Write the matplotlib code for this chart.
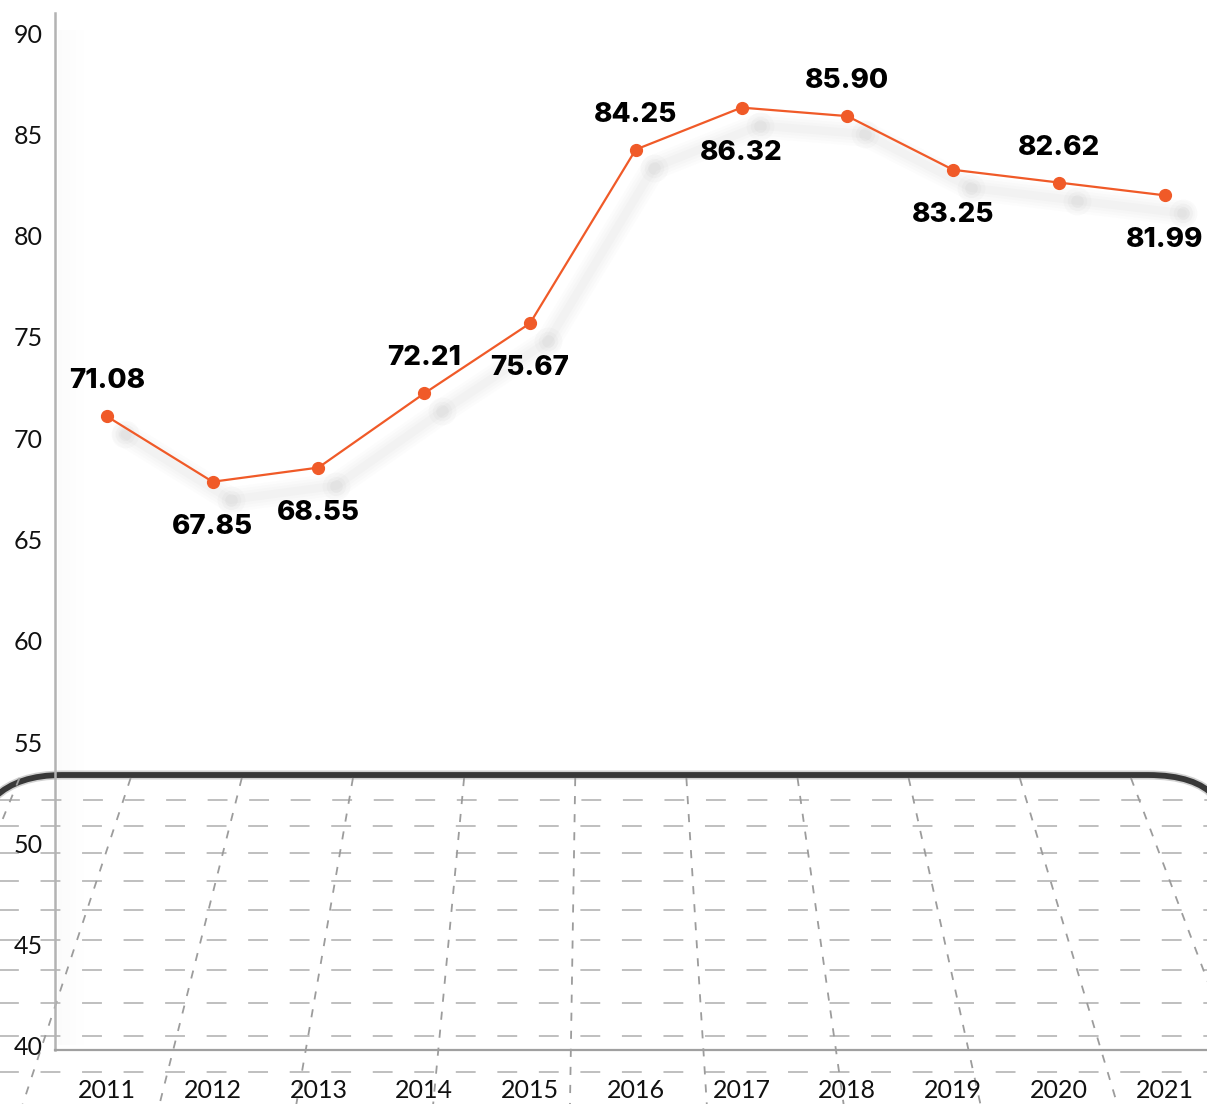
import numpy as np
import matplotlib
matplotlib.use("Agg")
import matplotlib.pyplot as plt
from matplotlib.path import Path
from matplotlib.patches import PathPatch
from matplotlib.transforms import ScaledTranslation

# --- data -------------------------------------------------------------
years = ["2011", "2012", "2013", "2014", "2015", "2016",
         "2017", "2018", "2019", "2020", "2021"]
values = [71.08, 67.85, 68.55, 72.21, 75.67, 84.25,
          86.32, 85.90, 83.25, 82.62, 81.99]
label_side = ["above", "below", "below", "above", "below", "above",
              "below", "above", "below", "above", "below"]
y_ticks = [40, 45, 50, 55, 60, 65, 70, 75, 80, 85, 90]

W, H = 1207, 1104
LINE_COLOR = "#F05A28"

plt.rcParams["font.family"] = ["Lato", "DejaVu Sans"]

fig = plt.figure(figsize=(W / 100, H / 100), dpi=100)
fig.patch.set_facecolor("white")

# --- decorative perspective floor (pixel coordinates) ------------------
bg = fig.add_axes([0, 0, 1, 1], zorder=0)
bg.set_xlim(0, W)
bg.set_ylim(H, 0)
bg.axis("off")

# soft shadow beside the vertical axis
for i, a in enumerate(np.linspace(0.03, 0.0, 14)):
    bg.fill_betweenx([30, 1045], 58 + i * 2, 60 + i * 2, color="#808080",
                     alpha=a, lw=0)

# receding horizontal grid lines
floor_rows = [800, 826, 853, 881, 910, 940, 970, 1003, 1036, 1072]
for j, yy in enumerate(floor_rows):
    start = -((j * 9) % 30)
    bg.plot([start, W], [yy, yy], color="#bababa", lw=1.3,
            dashes=(11, 12))

# converging floor lines toward a vanishing point
cx, vy, y_top = 598.0, -634.0, 780.0
for k in range(-1, 11):
    xt = 130 + 111.3 * k
    ys = np.array([778.0, H + 5])
    xs = cx + (xt - cx) * (ys - vy) / (y_top - vy)
    bg.plot(xs, ys, color="#9c9c9c", lw=1.3, dashes=(4.5, 5.5))

# rounded front edge of the floor
edge = Path([(-5, 797), (18, 775), (62, 775), (1148, 775), (1196, 775),
             (1215, 797)],
            [Path.MOVETO, Path.CURVE3, Path.CURVE3, Path.LINETO,
             Path.CURVE3, Path.CURVE3])
bg.add_patch(PathPatch(edge, fill=False, lw=6.5, edgecolor="#9a9a9a",
                       alpha=0.45, capstyle="round"))
bg.add_patch(PathPatch(edge, fill=False, lw=4.2, edgecolor="#383838",
                       capstyle="round"))

# --- main chart --------------------------------------------------------
ax = fig.add_axes([55 / W, 54 / H, 1 - 55 / W, (1050 - 13) / H], zorder=1)
ax.patch.set_alpha(0)
x = np.arange(len(years))
ax.set_xlim(-0.49, 10.4)
ax.set_ylim(39.8, 90.99)

# blurred drop shadow of the line
shift = ScaledTranslation(18 / 100, -18 / 100, fig.dpi_scale_trans)
for lw, a in [(18, 0.015), (14, 0.02), (10, 0.025), (6, 0.03)]:
    ax.plot(x, values, color="#7a7a7a", lw=lw, alpha=a,
            solid_capstyle="round", solid_joinstyle="round",
            transform=ax.transData + shift)
for ms, a in [(20, 0.03), (14, 0.04), (9, 0.05)]:
    ax.plot(x, values, ls="none", marker="o", ms=ms, mew=0,
            color="#7a7a7a", alpha=a, transform=ax.transData + shift)

ax.plot(x, values, color=LINE_COLOR, lw=1.6, marker="o", ms=8.5,
        mfc=LINE_COLOR, mec=LINE_COLOR, zorder=5)

for xi, v, side in zip(x, values, label_side):
    dy = 35 if side == "above" else -45
    ax.annotate(f"{v:.2f}", (xi, v), xytext=(0, dy),
                textcoords="offset pixels", ha="center", va="center",
                fontsize=20, fontweight=800, color="black",
                family=["Inter", "DejaVu Sans"], zorder=6)

for s in ["top", "right"]:
    ax.spines[s].set_visible(False)
ax.spines["left"].set_color("#b3b3b3")
ax.spines["left"].set_linewidth(1.8)
ax.spines["bottom"].set_color("#a0a0a0")
ax.spines["bottom"].set_linewidth(1.6)

ax.set_yticks(y_ticks)
ax.set_yticklabels([str(t) for t in y_ticks])
ax.set_xticks(x)
ax.set_xticklabels(years)
ax.tick_params(axis="y", length=0, pad=9, labelsize=18, labelcolor="#111111")
ax.tick_params(axis="x", length=0, pad=21, labelsize=18, labelcolor="#111111")
for lab in ax.get_xticklabels() + ax.get_yticklabels():
    lab.set_fontweight("normal")

fig.savefig("out.png", dpi=100, facecolor="white")
